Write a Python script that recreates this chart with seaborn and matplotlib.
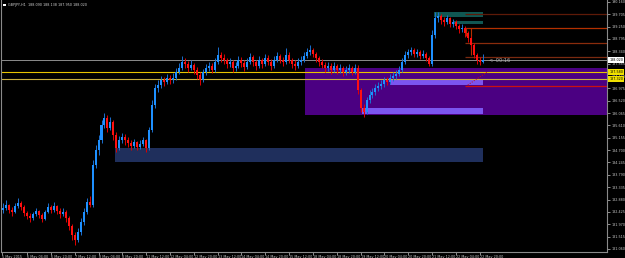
import numpy as np
import pandas as pd
import matplotlib
matplotlib.use("Agg")
import matplotlib.pyplot as plt
import matplotlib.transforms as mtransforms
from matplotlib.patches import Rectangle
import seaborn as sns

# ---------------- data (GBPJPY, 2-hour bars) ----------------
first_open = 182.49
close = [182.57, 182.68, 182.49, 182.42, 182.64, 182.75, 182.60, 182.38, 182.27, 182.20,
         182.35, 182.46, 182.31, 182.16, 182.42, 182.60, 182.49, 182.64, 182.46, 182.35,
         182.42, 182.20, 181.90, 181.57, 181.39, 181.68, 182.05, 182.42, 182.79, 182.68,
         184.15, 184.70, 185.07, 185.62, 185.88, 185.51, 185.74, 185.26, 184.78, 185.07,
         185.18, 185.07, 184.96, 184.85, 185.00, 184.81, 184.93, 185.07, 184.78, 185.44,
         186.36, 186.99, 187.10, 187.28, 187.21, 187.36, 187.28, 187.36, 187.58, 187.72,
         187.95, 187.87, 187.72, 187.84, 187.65, 187.47, 187.28, 187.58, 187.72, 187.80,
         187.65, 187.95, 188.20, 188.09, 188.02, 187.87, 187.95, 187.72, 187.80, 188.02,
         187.91, 187.76, 187.95, 188.13, 187.95, 187.80, 188.02, 187.87, 188.09, 187.95,
         187.80, 188.02, 188.17, 188.02, 187.95, 188.20, 188.02, 187.87, 187.80, 187.95,
         188.02, 188.17, 188.31, 188.39, 188.24, 188.09, 187.95, 187.84, 187.72, 187.80,
         187.65, 187.80, 187.65, 187.72, 187.58, 187.65, 187.72, 187.58, 187.72, 186.91,
         186.25, 186.10, 186.55, 186.73, 186.84, 186.99, 187.06, 187.14, 187.28, 187.21,
         187.36, 187.43, 187.50, 187.65, 187.95, 188.20, 188.31, 188.39, 188.24, 188.31,
         188.17, 188.24, 188.09, 187.87, 188.94, 189.57, 189.64, 189.49, 189.42, 189.57,
         189.35, 189.42, 189.27, 189.16, 189.20, 189.01, 188.83, 188.57, 188.20, 188.02,
         187.95, 188.02]
high = [182.75, 182.86, 182.71, 182.60, 182.75, 182.94, 182.83, 182.68, 182.46, 182.38,
        182.42, 182.57, 182.49, 182.38, 182.49, 182.75, 182.68, 182.79, 182.68, 182.57,
        182.57, 182.49, 182.27, 181.98, 181.68, 181.83, 182.20, 182.57, 182.94, 183.01,
        184.34, 184.89, 185.26, 185.81, 186.07, 185.99, 185.92, 185.81, 185.37, 185.22,
        185.33, 185.29, 185.18, 185.07, 185.11, 185.04, 185.07, 185.18, 185.11, 185.55,
        186.55, 187.14, 187.28, 187.43, 187.39, 187.50, 187.47, 187.54, 187.72, 187.91,
        188.17, 188.09, 187.98, 188.02, 187.91, 187.76, 187.58, 187.69, 187.87, 187.95,
        187.91, 188.09, 188.50, 188.31, 188.24, 188.09, 188.09, 188.02, 187.95, 188.17,
        188.13, 188.02, 188.09, 188.28, 188.20, 188.02, 188.17, 188.09, 188.24, 188.20,
        188.06, 188.17, 188.31, 188.24, 188.13, 188.46, 188.31, 188.09, 188.02, 188.09,
        188.17, 188.31, 188.46, 188.57, 188.46, 188.31, 188.17, 188.06, 187.95, 187.95,
        187.91, 187.95, 187.87, 187.87, 187.80, 187.80, 187.87, 187.80, 187.87, 187.84,
        186.99, 186.40, 186.66, 186.91, 186.99, 187.14, 187.21, 187.28, 187.39, 187.39,
        187.50, 187.58, 187.65, 187.80, 188.09, 188.35, 188.42, 188.50, 188.46, 188.42,
        188.39, 188.39, 188.31, 188.17, 189.12, 189.79, 189.79, 189.71, 189.60, 189.68,
        189.60, 189.53, 189.49, 189.35, 189.35, 189.27, 189.09, 188.90, 188.65, 188.28,
        188.13, 188.24]
low = [182.38, 182.49, 182.38, 182.27, 182.38, 182.57, 182.49, 182.27, 182.16, 182.05,
       182.12, 182.27, 182.20, 182.05, 182.12, 182.38, 182.38, 182.42, 182.35, 182.20,
       182.27, 182.05, 181.76, 181.39, 181.20, 181.31, 181.57, 181.94, 182.35, 182.60,
       182.60, 184.04, 184.52, 184.96, 185.51, 185.37, 185.44, 185.07, 184.63, 184.70,
       184.96, 184.89, 184.81, 184.70, 184.78, 184.70, 184.74, 184.85, 184.63, 184.70,
       185.37, 186.25, 186.84, 186.99, 187.06, 187.14, 187.14, 187.17, 187.28, 187.50,
       187.65, 187.72, 187.58, 187.65, 187.50, 187.32, 187.10, 187.21, 187.47, 187.61,
       187.54, 187.58, 187.87, 187.95, 187.87, 187.72, 187.76, 187.58, 187.61, 187.72,
       187.76, 187.61, 187.69, 187.87, 187.80, 187.65, 187.72, 187.72, 187.80, 187.84,
       187.65, 187.72, 187.95, 187.91, 187.80, 187.87, 187.91, 187.72, 187.65, 187.72,
       187.84, 187.95, 188.09, 188.20, 188.13, 187.95, 187.80, 187.72, 187.58, 187.61,
       187.50, 187.58, 187.50, 187.54, 187.43, 187.47, 187.54, 187.47, 187.50, 186.77,
       186.10, 185.92, 186.03, 186.44, 186.62, 186.73, 186.88, 186.95, 187.02, 187.10,
       187.14, 187.25, 187.32, 187.43, 187.58, 187.87, 188.09, 188.20, 188.13, 188.13,
       188.06, 188.09, 187.98, 187.80, 187.80, 188.83, 189.42, 189.35, 189.27, 189.35,
       189.24, 189.24, 189.16, 189.01, 189.05, 188.87, 188.68, 188.42, 188.09, 187.87,
       187.84, 187.91]
bar_hours = 2  # each bar covers two trading hours

# time-axis labels (trading-hour position, text)
tick_hours = [0, 17, 33, 49, 65, 81, 97, 113, 129, 145, 161, 177, 193, 209, 225, 241,
              257, 273, 289, 305, 321]
tick_text = ["5 May 2015", "6 May 04:00", "6 May 20:00", "7 May 12:00", "8 May 04:00",
             "8 May 20:00", "11 May 12:00", "12 May 04:00", "12 May 20:00", "13 May 12:00",
             "14 May 04:00", "14 May 20:00", "15 May 12:00", "18 May 04:00", "18 May 20:00",
             "19 May 12:00", "20 May 04:00", "20 May 20:00", "21 May 12:00", "22 May 04:00",
             "22 May 20:00"]

price_ticks = [190.160, 189.705, 189.250, 188.795, 188.340, 187.885, 187.430, 186.975,
               186.520, 186.065, 185.610, 185.155, 184.700, 184.245, 183.790, 183.335,
               182.880, 182.425, 181.970, 181.515, 181.060]

# drawn objects: (hour start, hour end, price top, price bottom, colour)
zones = [
    (76, 323, 184.78, 184.26, "#1f2f5c"),
    (204, 407, 187.72, 185.99, "#4b0082"),
    (261, 323, 187.32, 187.10, "#7b55f0"),
    (242, 323, 186.25, 186.03, "#7b55f0"),
    (290, 323, 189.79, 189.60, "#105752"),
    (303, 323, 189.46, 189.35, "#105752"),
]
# horizontal levels: (hour start, price, colour)
levels = [
    (311, 189.71, "#5e1a08"),
    (311, 189.20, "#b33000"),
    (311, 188.65, "#8a2c0c"),
    (311, 188.13, "#7a2a10"),
    (311, 187.06, "#cc1010"),
]
yellow_levels = [(187.58, "#e8c400"), (187.32, "#c9b040")]

# ---------------- build frame ----------------
df = pd.DataFrame({"close": close, "high": high, "low": low})
df["open"] = [first_open] + close[:-1]
df["hour"] = np.arange(len(df)) * bar_hours + bar_hours / 2
df["dir"] = np.where(df["close"] >= df["open"], "up", "down")

# ---------------- figure ----------------
sns.set_theme(style="dark", rc={"axes.facecolor": "black", "figure.facecolor": "black"})
plt.rcParams["font.family"] = ["DejaVu Sans"]

fig = plt.figure(figsize=(6.25, 2.58), dpi=100)
ax = fig.add_axes([1 / 625, 6 / 258, 606 / 625, 252 / 258])
ax.set_facecolor("black")
ax.set_xlim(-0.5, 406.5)
ax.set_ylim(180.946, 190.23)

# zones
for h0, h1, ptop, pbot, col in zones:
    ax.add_patch(Rectangle((h0, pbot), h1 - h0, ptop - pbot, facecolor=col,
                           edgecolor="none", zorder=1))

# full-width lines
for p, col in yellow_levels:
    ax.axhline(p, color=col, lw=0.8, zorder=2)
ax.axhline(df["close"].iloc[-1], color="#8c8c8c", lw=0.7, zorder=2)

for h0, p, col in levels:
    ax.hlines(p, h0, 406.5, color=col, lw=0.9, zorder=2)
ax.vlines(315, 188.20, 189.20, color="#b33000", lw=0.8, zorder=2)
ax.vlines(311.5, 188.90, 189.20, color="#b33000", lw=0.8, zorder=2)
ax.plot([313, 326], [187.10, 187.58], color="#cc1010", lw=0.7, ls=(0, (1, 1.5)), zorder=2)

# candles
palette = {"up": "#1e90ff", "down": "#ff1010"}
wick_pal = {"up": "#1a6fd0", "down": "#e00000"}
for d in ["up", "down"]:
    sub = df[df["dir"] == d]
    ax.vlines(sub["hour"], sub["low"], sub["high"], color=wick_pal[d], lw=0.7, zorder=3)
    body_lo = np.minimum(sub["open"], sub["close"])
    body_h = np.maximum(np.abs(sub["close"] - sub["open"]), 0.012)
    ax.bar(sub["hour"], body_h, bottom=body_lo, width=1.35, color=palette[d],
           edgecolor="none", zorder=4)

# axes styling
ax.spines["top"].set_visible(False)
for side in ["left", "right", "bottom"]:
    ax.spines[side].set_visible(True)
    ax.spines[side].set_color("#8a8a8a")
    ax.spines[side].set_linewidth(0.8)

fs = 2.4
ax.yaxis.tick_right()
ax.set_yticks(price_ticks)
ax.set_yticklabels([f"{v:.3f}" for v in price_ticks])
ax.tick_params(axis="y", colors="#c8c8c8", labelsize=fs, length=2, width=0.5, pad=1,
               right=True, left=False)
ax.set_xticks(tick_hours)
ax.set_xticklabels(tick_text, ha="left")
ax.tick_params(axis="x", colors="#c8c8c8", labelsize=fs, length=2, width=0.5, pad=0.5,
               bottom=True)
ax.grid(False)
ax.set_xlabel("")
ax.set_ylabel("")

# price label boxes on the right scale
trans = mtransforms.blended_transform_factory(ax.transAxes, ax.transData)
ax.text(1.004, df["close"].iloc[-1], f"{df['close'].iloc[-1]:.3f}", transform=trans,
        fontsize=fs, color="black", va="center", ha="left", clip_on=False,
        bbox=dict(boxstyle="square,pad=0.3", fc="white", ec="none"))
for p, col in yellow_levels:
    ax.text(1.004, p, f"{p:.3f}", transform=trans, fontsize=fs, color="black",
            va="center", ha="left", clip_on=False,
            bbox=dict(boxstyle="square,pad=0.3", fc="#f0e000", ec="none"))

# countdown and title
ax.text(327, df["close"].iloc[-1] - 0.03, "<--00:16", color="#b8b8b8", fontsize=3.6,
        va="center", ha="left", zorder=5)
ax.add_patch(Rectangle((0.004, 0.976), 0.004, 0.01, transform=ax.transAxes,
                       facecolor="white", edgecolor="none", zorder=6))
ax.text(0.012, 0.981, "GBPJPY,H1  188.090 188.138 187.950 188.020", transform=ax.transAxes,
        color="#d0d0d0", fontsize=fs, va="center", ha="left", zorder=6)

fig.savefig("out.png", dpi=100, facecolor="black")
